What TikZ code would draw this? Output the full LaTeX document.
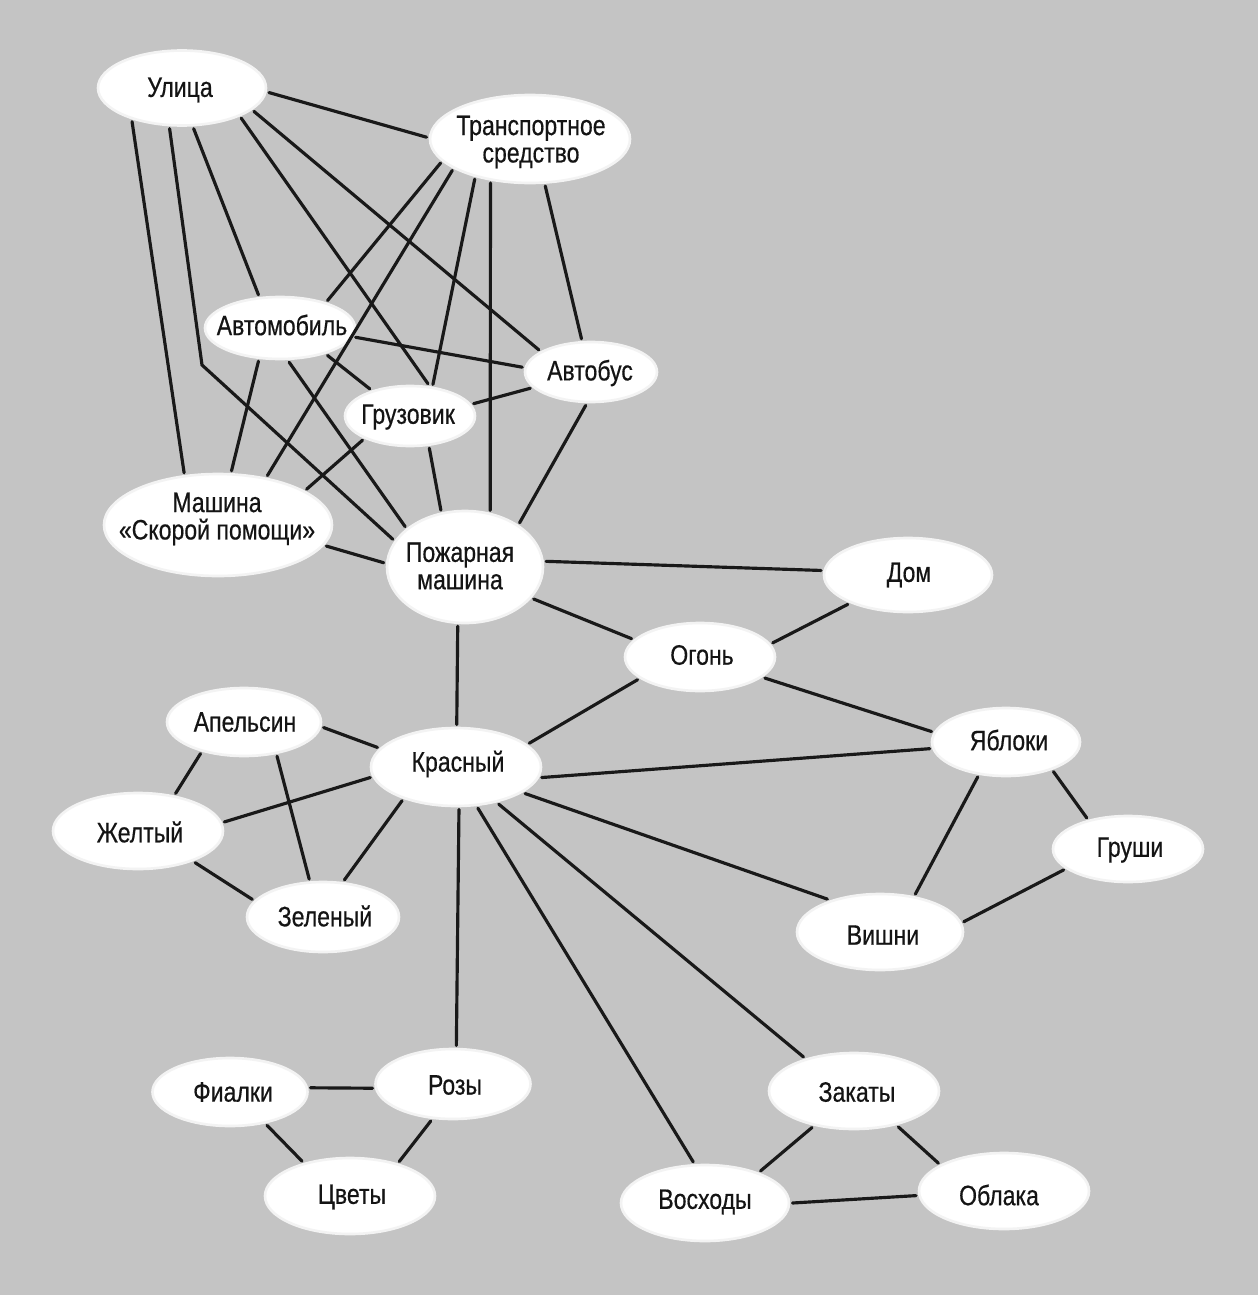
\documentclass[tikz,border=0pt]{standalone}
\usepackage{fontspec}
\setmainfont{Liberation Sans}[FakeStretch=0.82, FakeBold=0.5]
\usetikzlibrary{shapes.geometric}
\definecolor{bg}{gray}{0.77}
\definecolor{ln}{gray}{0.1}
\tikzset{
  blob/.style={ellipse, fill=white, draw=white!80!bg, line width=1.5pt, inner sep=0pt, outer sep=2pt},
  lbl/.style={inner sep=0pt, align=center, font=\fontsize{16}{15.6}\selectfont, text=black!92},
  edge/.style={draw=ln, line width=1.8pt, line cap=round},
}
\newcommand\bnode[8]{%
  \node[blob, minimum width=#4*0.02cm, minimum height=#5*0.02cm] (#1) at (#2,#3) {};
  \node[lbl] (#1-t) at (#6,#7) {#8};
}
\begin{document}
\begin{tikzpicture}[x=0.02cm, y=-0.02cm]
\useasboundingbox (0,0) rectangle (1258,1295);
\fill[bg] (0,0) rectangle (1258,1295);
% nodes
\bnode{ulica}{182}{88}{168}{75}{180}{90}{Улица}
\bnode{trans}{530}{139}{200}{88}{531}{142}{Транспортное\\средство}
\bnode{avto}{280}{328}{150}{62}{282}{325}{Автомобиль}
\bnode{bus}{591}{372}{132}{60}{590}{373}{Автобус}
\bnode{gruz}{410}{416}{130}{60}{408}{417}{Грузовик}
\bnode{amb}{218}{525}{228}{102}{217}{519}{Машина\\«Скорой помощи»}
\bnode{fire}{465}{567}{156}{112}{460}{566}{Пожарная\\машина}
\bnode{dom}{908}{575}{168}{74}{909}{575}{Дом}
\bnode{ogon}{700}{657}{150}{68}{702}{655}{Огонь}
\bnode{yabl}{1006}{742}{148}{68}{1009}{740}{Яблоки}
\bnode{grus}{1128}{849}{150}{66}{1130}{850}{Груши}
\bnode{vish}{880}{932}{166}{76}{883}{935}{Вишни}
\bnode{apel}{244}{722}{154}{68}{245}{722}{Апельсин}
\bnode{kras}{456}{767}{170}{78}{458}{764}{Красный}
\bnode{zhel}{138}{831}{170}{76}{140}{832}{Желтый}
\bnode{zel}{323}{917}{152}{70}{325}{916}{Зеленый}
\bnode{fial}{230}{1092}{155}{68}{233}{1092}{Фиалки}
\bnode{rozy}{453}{1084}{155}{70}{455}{1085}{Розы}
\bnode{tsve}{350}{1196}{170}{76}{352}{1197}{Цветы}
\bnode{vosh}{705}{1203}{168}{76}{705}{1202}{Восходы}
\bnode{zaka}{854}{1091}{170}{76}{857}{1092}{Закаты}
\bnode{obla}{1004}{1191}{170}{76}{999}{1195}{Облака}
\coordinate (kink) at (202,365);
% edges: top cluster
\draw[edge] (ulica.357) -- (trans.179);
\draw[edge] (ulica.214) -- (amb.123);
\draw[edge] (ulica.253) -- (kink) -- (fire.159);
\draw[edge] (ulica.286) -- (avto.123);
\draw[edge] (ulica.333) -- (gruz.61);
\draw[edge] (ulica.342) -- (bus.157);
\draw[edge] (trans.195) -- (avto.30);
\draw[edge] (trans.202) -- (amb.45);
\draw[edge] (trans.216) -- (gruz.54);
\draw[edge] (trans.228) -- (fire.66);
\draw[edge] (trans.288) -- (bus.106);
\draw[edge] (avto.237) -- (amb.76);
\draw[edge] (avto.285) -- (fire.146);
\draw[edge] (avto.330) -- (gruz.146);
\draw[edge] (avto.353) -- (bus.176);
\draw[edge] (gruz.11) -- (bus.195);
\draw[edge] (gruz.301) -- (fire.113);
\draw[edge] (gruz.207) -- (amb.22);
\draw[edge] (bus.261) -- (fire.39);
\draw[edge] (amb.349) -- (fire.177);
% middle
\draw[edge] (fire.4) -- (dom.177);
\draw[edge] (fire.335) -- (ogon.165);
\draw[edge] (fire.263) -- (kras.89);
\draw[edge] (dom.206) -- (ogon.11);
\draw[edge] (ogon.200) -- (kras.18);
\draw[edge] (ogon.342) -- (yabl.172);
\draw[edge] (kras.353) -- (yabl.185);
\draw[edge] (kras.339) -- (vish.148);
\draw[edge] (yabl.231) -- (vish.47);
\draw[edge] (yabl.328) -- (grus.143);
\draw[edge] (grus.198) -- (vish.7);
\draw[edge] (apel.356) -- (kras.166);
\draw[edge] (apel.216) -- (zhel.45);
\draw[edge] (apel.314) -- (zel.110);
\draw[edge] (zhel.6) -- (kras.187);
\draw[edge] (zhel.331) -- (zel.166);
\draw[edge] (kras.212) -- (zel.60);
% lower
\draw[edge] (kras.274) -- (rozy.85);
\draw[edge] (kras.298) -- (vosh.106);
\draw[edge] (kras.319) -- (zaka.146);
\draw[edge] (fial.3) -- (rozy.183);
\draw[edge] (fial.318) -- (tsve.144);
\draw[edge] (rozy.239) -- (tsve.35);
\draw[edge] (zaka.221) -- (vosh.30);
\draw[edge] (zaka.321) -- (obla.157);
\draw[edge] (vosh.0) -- (obla.183);
\end{tikzpicture}
\end{document}
